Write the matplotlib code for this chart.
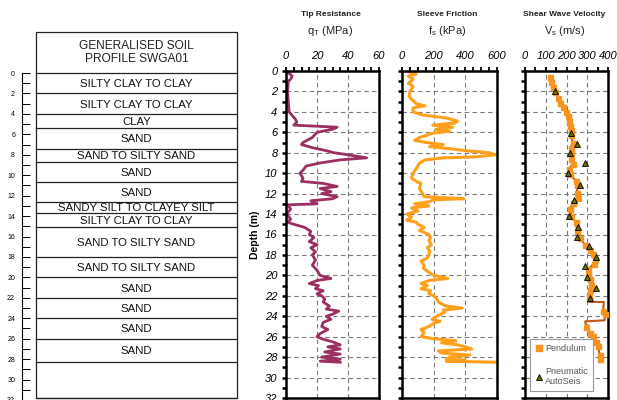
import matplotlib
matplotlib.use('Agg')
import matplotlib.pyplot as plt
from matplotlib import font_manager
from matplotlib.patches import Rectangle
from matplotlib.ticker import MultipleLocator
from matplotlib.lines import Line2D

# ---------------- data ----------------
layer_tops = [0, 2.0, 4.0, 5.4, 7.4, 8.7, 10.7, 12.6, 13.7, 15.1, 18.0, 20.0, 22.0, 24.0, 26.0, 28.3]
layer_bottoms = [2.0, 4.0, 5.4, 7.4, 8.7, 10.7, 12.6, 13.7, 15.1, 18.0, 20.0, 22.0, 24.0, 26.0, 28.3, 31.8]
layer_names = ["SILTY CLAY TO CLAY", "SILTY CLAY TO CLAY", "CLAY", "SAND", "SAND TO SILTY SAND",
               "SAND", "SAND", "SANDY SILT TO CLAYEY SILT", "SILTY CLAY TO CLAY",
               "SAND TO SILTY SAND", "SAND TO SILTY SAND", "SAND", "SAND", "SAND", "SAND", ""]
profile_title = "GENERALISED SOIL\nPROFILE SWGA01"

qt_depth = [0, 0.3, 0.5, 0.8, 1.0, 2.0, 3.0, 4.0, 4.3, 4.7, 5.0, 5.3, 5.5, 5.7, 6.0, 6.5, 7.0, 7.2,
            7.5, 7.8, 8.0, 8.2, 8.5, 8.7, 9.0, 9.3, 9.7, 10.0, 10.5, 10.8, 11.0, 11.3, 11.5, 11.8,
            12.0, 12.3, 12.5, 12.7, 13.0, 13.1, 13.5, 14.0, 14.5, 14.8, 15.0, 15.3, 15.7, 16.0,
            16.3, 16.7, 17.0, 17.3, 17.7, 18.0, 18.5, 19.0, 19.5, 20.0, 20.3, 20.5, 20.8, 21.0,
            21.3, 21.5, 21.8, 22.0, 22.3, 22.6, 23.0, 23.3, 23.5, 23.8, 24.0, 24.3, 24.6, 25.0,
            25.3, 25.7, 26.0, 26.2, 26.5, 26.8, 27.0, 27.2, 27.5, 27.7, 28.0, 28.2, 28.4, 28.5]
qt_mpa = [0.5, 2.5, 4, 3, 1.5, 1, 1.5, 2, 3.7, 6, 7, 5, 33, 30, 20, 17, 11, 10,
          17, 26, 31, 40, 52, 35, 22, 13, 11, 9, 11, 10, 24, 33, 22, 29,
          23, 33, 30, 16, 20, 1, 3, 0.5, 3, 1, 5, 12, 16, 15,
          18, 15, 20, 16, 19, 17, 19, 17, 20, 22, 29, 20, 15, 21,
          19, 24, 20, 23, 25, 24, 28, 26, 34, 30, 26, 29, 24, 23,
          27, 22, 20, 23, 30, 35, 27, 35, 25, 35, 23, 35, 22, 35]

fs_depth = [0, 0.3, 0.5, 0.8, 1.2, 1.5, 2.0, 2.5, 2.75, 3.2, 3.4, 3.6, 4.0, 4.3, 4.6, 4.9, 5.1,
            5.3, 5.5, 5.7, 5.9, 6.1, 6.3, 6.5, 6.8, 7.0, 7.2, 7.4, 7.6, 7.8, 8.0, 8.2, 8.4, 8.5,
            8.7, 9.0, 9.5, 10.0, 10.5, 10.8, 11.0, 11.5, 12.0, 12.3, 12.5, 12.6, 12.8, 13.0,
            13.2, 13.4, 13.7, 14.0, 14.3, 14.6, 14.8, 15.0, 15.3, 15.6, 16.0, 16.3, 16.6, 17.0,
            17.3, 17.6, 18.0, 18.3, 18.6, 19.0, 19.3, 19.6, 20.0, 20.3, 20.5, 20.8, 21.0, 21.3,
            21.5, 21.8, 22.0, 22.3, 22.6, 22.8, 23.0, 23.2, 23.4, 23.6, 24.0, 24.3, 24.5, 24.7,
            25.0, 25.3, 25.6, 26.0, 26.2, 26.4, 26.6, 26.8, 27.0, 27.2, 27.4, 27.6, 27.8, 28.0,
            28.2, 28.3, 28.4, 28.5]
fs_kpa = [30, 90, 40, 70, 40, 70, 50, 45, 60, 90, 145, 70, 70, 130, 280, 350, 330,
          195, 320, 215, 300, 185, 155, 112, 80, 155, 260, 175, 300, 405, 550, 590, 465, 260,
          145, 112, 92, 70, 60, 90, 120, 110, 130, 140, 390, 200, 170, 80,
          170, 60, 100, 30, 60, 30, 90, 100, 140, 110, 170, 180, 170, 185,
          160, 175, 170, 160, 120, 140, 135, 160, 200, 290, 170, 120, 160, 120,
          180, 170, 200, 220, 230, 250, 280, 380, 260, 270, 220, 190, 240, 200,
          170, 120, 140, 120, 200, 340, 250, 350, 400, 440, 230, 250, 430, 300,
          280, 400, 280, 600]

pend_depth = [0.6, 1.1, 1.6, 2.1, 2.6, 3.1, 3.5, 4.0, 4.4, 4.9, 5.4, 5.8, 6.3, 7.0, 7.5, 8.0,
              8.6, 9.1, 9.6, 10.1, 10.8, 11.2, 11.9, 12.4, 12.9, 13.5, 14.2, 14.8, 15.7, 16.3,
              17.0, 17.5, 17.9, 18.4, 18.9, 19.4, 19.9, 20.4, 20.9, 21.4, 22.0, 23.5, 23.8,
              25.1, 25.6, 25.9, 26.5, 26.9, 27.8, 28.2]
pend_vs = [120, 125, 133, 144, 160, 171, 184, 197, 205, 213, 219, 224, 224, 229, 221, 224,
           221, 229, 213, 216, 248, 251, 251, 256, 232, 216, 224, 245, 251, 264,
           288, 312, 328, 336, 331, 304, 304, 312, 320, 312, 309, 376, 384,
           296, 312, 328, 341, 352, 360, 363]

interval_depth = [0.6, 1.1, 1.6, 2.1, 2.6, 3.1, 3.5, 4.0, 4.4, 4.9, 5.4, 5.8, 6.3, 7.0, 7.5, 8.0,
                  8.6, 9.1, 9.6, 10.1, 10.8, 11.2, 11.9, 12.4, 12.9, 13.5, 14.2, 14.8, 15.7, 16.3,
                  17.0, 17.5, 17.9, 18.4, 18.9, 19.4, 19.9, 20.4, 20.9, 21.4, 22.0, 22.6, 22.6,
                  23.5, 23.8, 24.4, 24.5, 25.1, 25.6, 25.9, 26.5, 26.9, 27.8, 28.2]
interval_vs = [120, 125, 133, 144, 160, 171, 184, 197, 205, 213, 219, 224, 224, 229, 221, 224,
               221, 229, 213, 216, 248, 251, 251, 256, 232, 216, 224, 245, 251, 264,
               288, 312, 328, 336, 331, 304, 304, 312, 320, 312, 309, 309, 380,
               376, 384, 384, 290, 296, 312, 328, 341, 352, 360, 363]

auto_depth = [2.0, 6.1, 7.1, 8.0, 9.0, 10.0, 11.2, 12.6, 14.2, 15.3, 16.2, 17.1, 18.2, 19.1,
              20.2, 21.2, 22.2]
auto_vs = [144, 224, 251, 216, 288, 208, 264, 235, 211, 254, 251, 309, 344, 291,
           299, 344, 312]

panel_titles = ["Tip Resistance", "Sleeve Friction", "Shear Wave Velocity"]
panel_units = ["q$_{\\mathregular{T}}$ (MPa)", "f$_{\\mathregular{s}}$ (kPa)", "V$_{\\mathregular{s}}$ (m/s)"]
panel_xmax = [60, 600, 400]
panel_major = [20, 200, 100]
panel_minor = [5, 50, 50]
depth_label = "Depth (m)"
legend_labels = ["Pendulum", "Pneumatic\nAutoSeis"]

# ---------------- styling ----------------
names = {f.name for f in font_manager.fontManager.ttflist}
NARROW = 'Liberation Sans Narrow' if 'Liberation Sans Narrow' in names else 'Liberation Sans'
plt.rcParams['font.family'] = ['Liberation Sans', 'DejaVu Sans']
plt.rcParams['mathtext.fontset'] = 'custom'
plt.rcParams['mathtext.rm'] = 'Liberation Sans'

W, H = 617, 400
fig = plt.figure(figsize=(W / 100, H / 100), dpi=100)


def fx(px):
    return px / W


def fy(py):
    return 1 - py / H


# ---------------- soil profile ----------------
ax0 = fig.add_axes([fx(22), fy(400), (237 - 22) / W, (400 - 73) / H])
ax0.set_xlim(0, 215)
ax0.set_ylim(32, 0)
for s in ['top', 'right', 'bottom']:
    ax0.spines[s].set_visible(False)
ax0.spines['left'].set_linewidth(0.8)
ax0.set_xticks([])
ax0.yaxis.set_major_locator(MultipleLocator(2))
ax0.yaxis.set_minor_locator(MultipleLocator(1))
ax0.tick_params(axis='y', which='both', direction='in', length=6, width=0.7, labelsize=5, pad=5)
ax0.patch.set_visible(False)

box_l, box_r = 14, 215
ax0.add_patch(Rectangle((box_l, -4.0), box_r - box_l, 31.8 + 4.0, fill=False, lw=0.9,
                        ec='#222222', clip_on=False))
ax0.plot([box_l, box_r], [0, 0], color='#222222', lw=0.9, clip_on=False)
ax0.text((box_l + box_r) / 2, -2.0, profile_title, ha='center', va='center', fontsize=8.6,
         color='#222222', linespacing=1.15, clip_on=False)
for top, bot, name in zip(layer_tops, layer_bottoms, layer_names):
    ax0.plot([box_l, box_r], [bot, bot], color='#222222', lw=0.9, clip_on=False)
    if name:
        ax0.text((box_l + box_r) / 2, (top + bot) / 2, name, ha='center', va='center_baseline',
                 fontsize=8.2, color='#111111')

# ---------------- data panels ----------------
lefts = [286, 402, 525]
rights = [379, 497, 608]
axes = []
for i in range(3):
    ax = fig.add_axes([fx(lefts[i]), fy(398), (rights[i] - lefts[i]) / W, (398 - 71) / H])
    ax.set_xlim(0, panel_xmax[i])
    ax.set_ylim(32, 0)
    ax.xaxis.tick_top()
    ax.xaxis.set_major_locator(MultipleLocator(panel_major[i]))
    ax.xaxis.set_minor_locator(MultipleLocator(panel_minor[i]))
    ax.yaxis.set_major_locator(MultipleLocator(2))
    ax.yaxis.set_minor_locator(MultipleLocator(1))
    ax.tick_params(axis='x', which='both', direction='out', length=3, width=1.3, pad=4,
                   labelsize=8, bottom=False, top=True)
    ax.tick_params(axis='y', which='both', direction='out', length=3, width=1.8, pad=3,
                   labelsize=8, right=False)
    for lab in ax.get_xticklabels() + ax.get_yticklabels():
        lab.set_fontstyle('italic')
        lab.set_family(NARROW)
    if i > 0:
        ax.tick_params(axis='y', labelleft=False)
    for s in ax.spines.values():
        s.set_linewidth(1.8)
    ax.grid(True, which='major', color='#7a7a7a', linestyle=(0, (4, 3)), linewidth=0.8)
    ax.set_axisbelow(True)
    axes.append(ax)
    cx = (lefts[i] + rights[i]) / 2 - 2
    fig.text(fx(cx), fy(15), panel_titles[i], ha='center', va='center', fontsize=6,
             fontweight='bold', family=NARROW, color='#222222')
    fig.text(fx(cx), fy(31), panel_units[i], ha='center', va='center', fontsize=8,
             color='#222222')

axes[0].set_ylabel(depth_label, fontsize=7.5, fontweight='bold', labelpad=4)

axes[0].plot(qt_mpa, qt_depth, color='#9b2f62', lw=2.0, solid_joinstyle='round')
axes[1].plot(fs_kpa, fs_depth, color='#ffa01c', lw=2.2, solid_joinstyle='round')

axv = axes[2]
axv.plot(interval_vs, interval_depth, color='#c2561a', lw=1.5, zorder=3)
axv.plot(pend_vs, pend_depth, ls='none', marker='s', ms=3.6, mfc='#f7931e', mec='#f7931e',
         zorder=4)
axv.plot(auto_vs, auto_depth, ls='none', marker='^', ms=4.6, mfc='#6b6b00', mec='black',
         mew=0.6, zorder=5)

handles = [Line2D([], [], ls='none', marker='s', ms=5, mfc='#f7931e', mec='#f7931e'),
           Line2D([], [], ls='none', marker='^', ms=5, mfc='#6b6b00', mec='black', mew=0.6)]
leg = axv.legend(handles, legend_labels, loc='lower left', bbox_to_anchor=(0.06, 0.02),
                 borderaxespad=0, fontsize=6.5, frameon=True, fancybox=False,
                 edgecolor='#999999', handlelength=0.7, handletextpad=0.4,
                 labelspacing=1.5, borderpad=0.6, framealpha=1)
leg.get_frame().set_linewidth(0.8)
for t in leg.get_texts():
    t.set_color('#555555')

fig.savefig('out.png', dpi=100)
